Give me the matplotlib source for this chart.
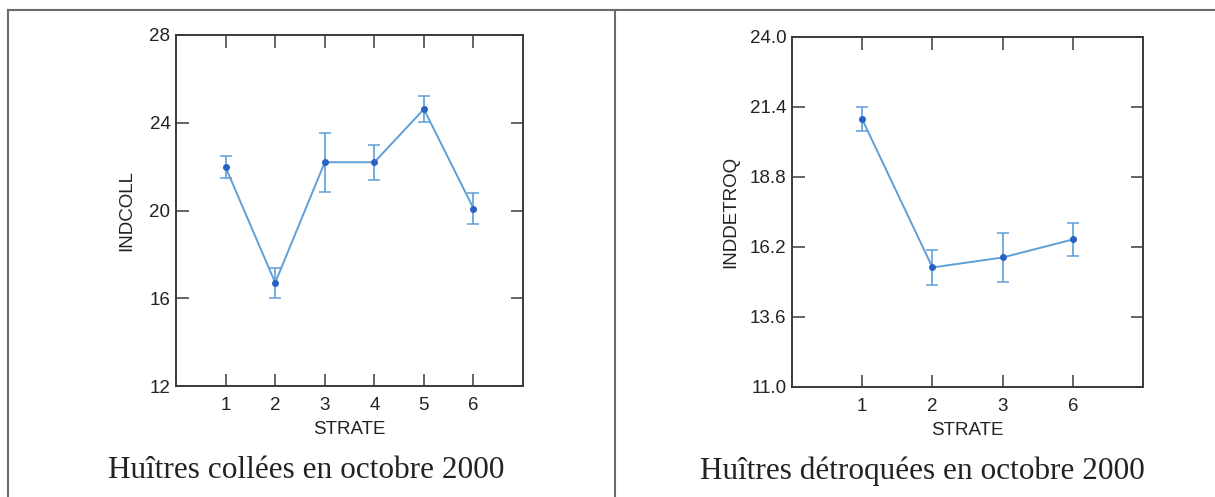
import matplotlib
matplotlib.use("Agg")
import matplotlib.pyplot as plt
from matplotlib.lines import Line2D

# Huîtres collées : moyenne et erreur par strate
strates_coll = [1, 2, 3, 4, 5, 6]
indcoll = [21.97, 16.71, 22.2, 22.2, 24.62, 20.09]
indcoll_err = [0.5, 0.68, 1.35, 0.8, 0.6, 0.7]

# Huîtres détroquées : moyenne et erreur par strate
strates_detroq = ["1", "2", "3", "6"]
inddetroq = [20.93, 15.43, 15.8, 16.47]
inddetroq_err = [0.45, 0.65, 0.9, 0.62]

coll_yticks = [12, 16, 20, 24, 28]
detroq_yticks = [11.0, 13.6, 16.2, 18.8, 21.4, 24.0]

LINE_COLOR = "#5f9fd8"
MARK_COLOR = "#2a62c4"
SPINE_COLOR = "#3a3a3a"
FRAME_COLOR = "#6a6a6a"
TEXT_COLOR = "#222222"

plt.rcParams["font.family"] = ["Liberation Sans", "DejaVu Sans"]

fig = plt.figure(figsize=(12.15, 4.97), dpi=100)


def style_axes(ax):
    for s in ax.spines.values():
        s.set_color(SPINE_COLOR)
        s.set_linewidth(1.4)
    ax.tick_params(direction="in", length=9, width=1.1, color=SPINE_COLOR,
                   top=True, right=True, labelsize=13.5, labelcolor=TEXT_COLOR)
    ax.tick_params(axis="x", pad=8)
    ax.tick_params(axis="y", pad=4)


def draw_series(ax, x, y, err):
    ax.errorbar(x, y, yerr=err, color=LINE_COLOR, ecolor=LINE_COLOR,
                elinewidth=1.2, capsize=4, capthick=1.1, lw=1.4,
                marker="o", ms=4, mfc=MARK_COLOR, mec=MARK_COLOR, zorder=3)


# Panneau gauche
ax1 = fig.add_axes([0.1449, 0.2233, 0.2856, 0.7063])
draw_series(ax1, strates_coll, indcoll, indcoll_err)
ax1.set_xlim(0, 7)
ax1.set_ylim(coll_yticks[0], coll_yticks[-1])
ax1.set_xticks(strates_coll)
ax1.set_yticks(coll_yticks)
ax1.set_xlabel("STRATE", fontsize=13.5, labelpad=5, color=TEXT_COLOR)
ax1.set_ylabel("INDCOLL", fontsize=13.5, labelpad=10, color=TEXT_COLOR)
style_axes(ax1)

# Panneau droit : strates en positions catégorielles
ax2 = fig.add_axes([0.6519, 0.2219, 0.2889, 0.7042])
pos = list(range(1, len(strates_detroq) + 1))
draw_series(ax2, pos, inddetroq, inddetroq_err)
ax2.set_xlim(0, len(strates_detroq) + 1)
ax2.set_ylim(detroq_yticks[0], detroq_yticks[-1])
ax2.set_xticks(pos)
ax2.set_xticklabels(strates_detroq)
ax2.set_yticks(detroq_yticks)
ax2.set_yticklabels([f"{v:.1f}" for v in detroq_yticks])
ax2.set_xlabel("STRATE", fontsize=13.5, labelpad=5, color=TEXT_COLOR)
ax2.set_ylabel("INDDETROQ", fontsize=13.5, labelpad=8, color=TEXT_COLOR)
style_axes(ax2)

# Cadre du tableau
W, H = 1215, 497
frame = [((8, 1215), (10, 10)), ((8, 8), (10, 497)), ((615, 615), (10, 497))]
for xs, ys in frame:
    fig.add_artist(Line2D([x / W for x in xs], [1 - y / H for y in ys],
                          transform=fig.transFigure, color=FRAME_COLOR, lw=1.5))

# Légendes sous chaque graphique
cap_kw = dict(ha="center", va="center", fontsize=22.5, color=TEXT_COLOR,
              family=["Liberation Serif", "DejaVu Serif"])
fig.text(306 / W, 1 - 471 / H, "Huîtres collées en octobre 2000", **cap_kw)
fig.text(922 / W, 1 - 471 / H, "Huîtres détroquées en octobre 2000", **cap_kw)

fig.savefig("out.png", dpi=100)
